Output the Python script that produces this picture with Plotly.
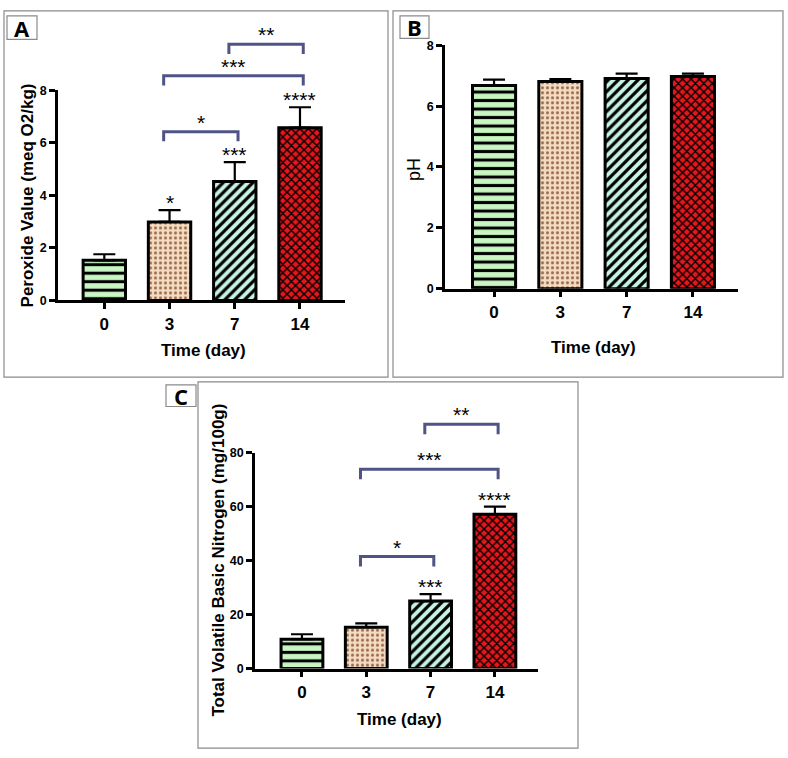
import plotly.graph_objects as go

# ---------------- data ----------------
days = ["0", "3", "7", "14"]

peroxide_mean = [1.53, 2.99, 4.53, 6.58]
peroxide_err_top = [1.76, 3.44, 5.27, 7.36]

ph_mean = [6.68, 6.81, 6.91, 6.97]
ph_err_top = [6.87, 6.89, 7.07, 7.07]

tvbn_mean = [10.9, 15.3, 25.0, 57.2]
tvbn_err_top = [12.7, 16.7, 27.6, 60.0]

# significance vs day 0 (text above bars)
peroxide_sig = ["", "*", "***", "****"]
tvbn_sig = ["", "", "***", "****"]

# pairwise comparisons: (from index, to index, label, bracket level in data units)
peroxide_pairs = [(1, 2, "*", 6.43), (1, 3, "***", 8.56), (2, 3, "**", 9.76)]
tvbn_pairs = [(1, 2, "*", 41.5), (1, 3, "***", 73.8), (2, 3, "**", 90.5)]

# ---------------- styling ----------------
W, H = 788, 758
SANS = "Liberation Sans, Arial, sans-serif"
BRACKET = "#4f5386"

bar_styles = [
    dict(bg="#c9f5c3", fg="#000000", shape="-", size=8.5, solidity=0.36),
    dict(bg="#f4dcc3", fg="#9b6b4c", shape=".", size=5, solidity=0.3),
    dict(bg="#c7f3e4", fg="#000000", shape="/", size=7, solidity=0.45),
    dict(bg="#e6161c", fg="#000000", shape="x", size=6, solidity=0.42),
]


def px(x):
    return x / W


def py(y):
    return 1 - y / H


pos = list(range(len(days)))

fig = go.Figure()
annotations = []
shapes = []


def add_panel(idx, mean, err_top, sig, pairs, xdom, ydom, yrange, ytickvals, xrng):
    xa = "x" if idx == 1 else f"x{idx}"
    ya = "y" if idx == 1 else f"y{idx}"
    for i in pos:
        st = bar_styles[i]
        fig.add_trace(go.Bar(
            x=[pos[i]], y=[mean[i]], width=0.65,
            marker=dict(
                color=st["bg"],
                line=dict(color="black", width=3),
                pattern=dict(shape=st["shape"], fgcolor=st["fg"], bgcolor=st["bg"],
                             size=st["size"], solidity=st["solidity"], fillmode="replace"),
            ),
            error_y=dict(type="data", symmetric=False,
                         array=[err_top[i] - mean[i]], arrayminus=[0],
                         color="black", thickness=2.2, width=11),
            xaxis=xa, yaxis=ya, showlegend=False,
        ))
        if sig[i]:
            annotations.append(dict(x=pos[i], y=err_top[i], xref=xa, yref=ya, text=sig[i],
                                    showarrow=False, yanchor="bottom", yshift=-6,
                                    font=dict(family=SANS, size=21, color="black")))
    span = yrange[1] - yrange[0]
    drop = 0.046
    for a, b, lab, lev in pairs:
        l = pos[a] - 0.09
        r = pos[b] + 0.05
        yd = (lev - yrange[0]) / span
        shapes.append(dict(type="path", xref=xa, yref=f"{ya} domain",
                           path=f"M{l},{yd - drop} L{l},{yd} L{r},{yd} L{r},{yd - drop}",
                           line=dict(color=BRACKET, width=3)))
        annotations.append(dict(x=(l + r) / 2, y=yd, xref=xa, yref=f"{ya} domain", text=lab,
                                showarrow=False, yanchor="bottom", yshift=-4,
                                font=dict(family=SANS, size=21, color="black")))
    axis_common = dict(showline=True, linecolor="black", linewidth=2.5, ticks="outside",
                       ticklen=6, tickwidth=2.5, tickcolor="black", showgrid=False,
                       zeroline=False, fixedrange=True)
    fig.update_layout({
        ("xaxis" if idx == 1 else f"xaxis{idx}"): dict(
            domain=xdom, range=xrng, anchor=ya, tickvals=pos, ticktext=days,
            tickfont=dict(family=SANS, size=17, color="black", weight="bold"),
            **axis_common),
        ("yaxis" if idx == 1 else f"yaxis{idx}"): dict(
            domain=ydom, range=yrange, anchor=xa, tickvals=ytickvals,
            tickfont=dict(family=SANS, size=12.5, color="black", weight="bold"),
            **axis_common),
    })


# Panel A
add_panel(1, peroxide_mean, peroxide_err_top, peroxide_sig, peroxide_pairs,
          [px(58), px(345)], [py(299), py(85)], [0, 8], [0, 2, 4, 6, 8], [-0.71, 3.69])
# Panel B
add_panel(2, ph_mean, ph_err_top, ["", "", "", ""], [],
          [px(445), px(738)], [py(287), py(39)], [0, 8], [0, 2, 4, 6, 8], [-0.74, 3.68])
# Panel C
add_panel(3, tvbn_mean, tvbn_err_top, tvbn_sig, tvbn_pairs,
          [px(255), px(538)], [py(674), py(454)], [0, 80], [0, 20, 40, 60, 80], [-0.73, 3.67])


def title(text, x, y, size, angle=0, bold=True, family=SANS):
    annotations.append(dict(x=px(x), y=py(y), xref="paper", yref="paper", text=text,
                            showarrow=False, textangle=angle, xanchor="center", yanchor="middle",
                            font=dict(family=family, size=size, color="black",
                                      weight="bold" if bold else "normal")))


title("Peroxide Value (meq O2/kg)", 27, 192, 17, -90)
title("Time (day)", 203, 350, 17)
title("pH", 414, 166, 18, -90, bold=False)
title("Time (day)", 593, 347, 17)
title("Total Volatile Basic Nitrogen (mg/100g)", 219, 563, 17, -90)
title("Time (day)", 399, 726, 17)

# panel frames
for x0, y0, x1, y1 in [(4, 4, 388, 377), (393, 4, 783, 377), (198, 382, 578, 755)]:
    shapes.append(dict(type="rect", xref="paper", yref="paper", x0=px(x0), x1=px(x1),
                       y0=py(y1), y1=py(y0), line=dict(color="#8a8a8a", width=1.2),
                       fillcolor="rgba(0,0,0,0)", layer="below"))
# panel labels
for lab, x0, y0, x1, y1 in [("A", 7, 9, 37, 33), ("B", 400, 9, 429, 32), ("C", 166, 385, 196, 407)]:
    shapes.append(dict(type="rect", xref="paper", yref="paper", x0=px(x0), x1=px(x1),
                       y0=py(y1), y1=py(y0), line=dict(color="#8a8a8a", width=1.2),
                       fillcolor="white"))
    annotations.append(dict(x=px((x0 + x1) / 2), y=py((y0 + y1) / 2), xref="paper", yref="paper",
                            text=lab, showarrow=False, xanchor="center", yanchor="middle",
                            font=dict(family="Open Sans, Liberation Sans, Arial", size=22,
                                      color="black", weight="bold")))

fig.update_layout(
    width=W, height=H, margin=dict(l=0, r=0, t=0, b=0),
    paper_bgcolor="white", plot_bgcolor="white",
    shapes=shapes, annotations=annotations, barmode="overlay",
)

fig.write_html("out.html")
